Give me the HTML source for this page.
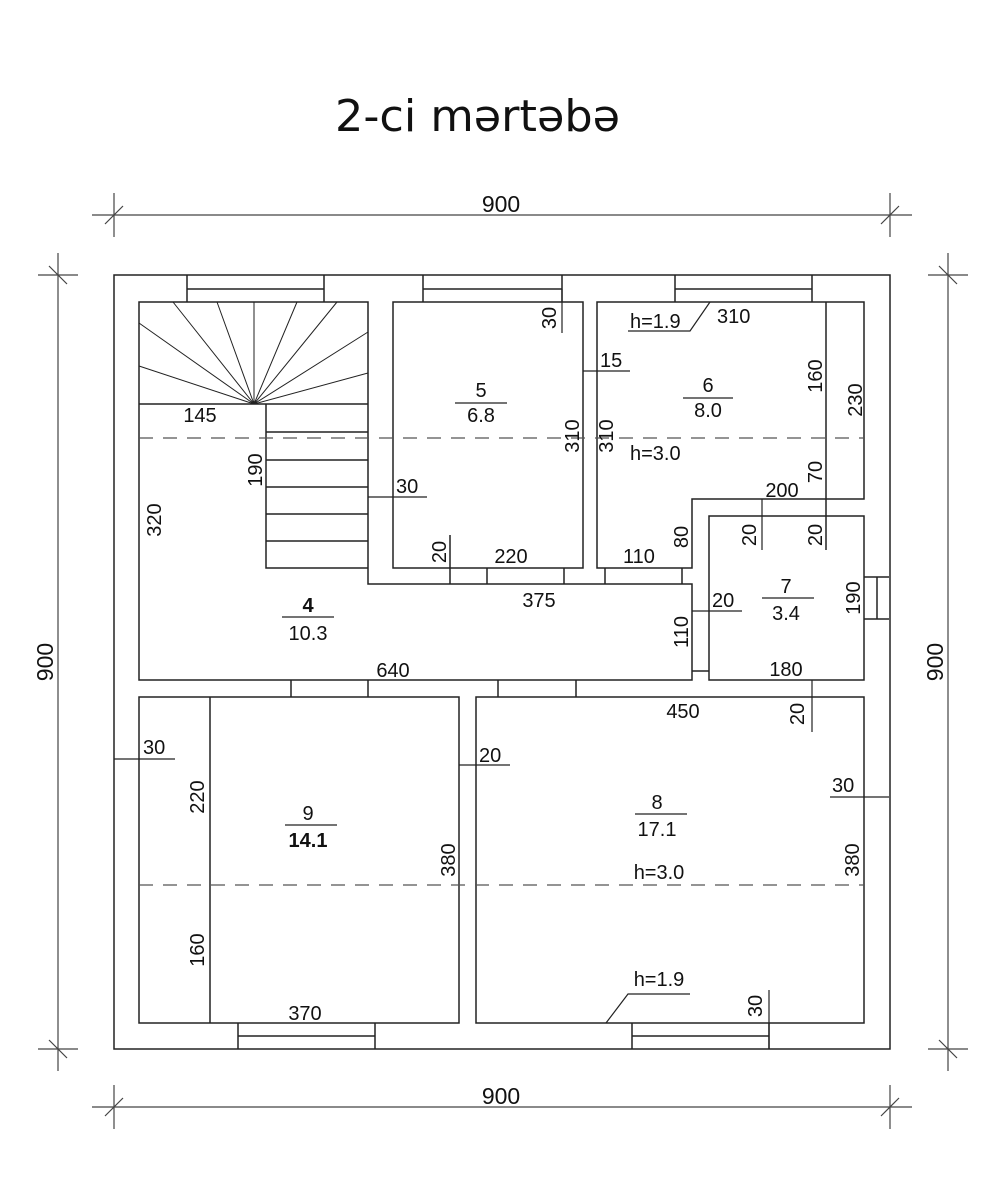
<!DOCTYPE html>
<html><head><meta charset="utf-8"><style>html,body{margin:0;padding:0;background:#fff}svg{display:block}</style></head>
<body>
<svg width="1000" height="1200" viewBox="0 0 1000 1200" xmlns="http://www.w3.org/2000/svg" font-family="Liberation Sans, Arial, sans-serif" fill="none" stroke="#222" stroke-width="1.5">
<text x="335" y="131" font-size="44" fill="#111" stroke="none" textLength="285" lengthAdjust="spacingAndGlyphs" font-family="DejaVu Sans, Liberation Sans, sans-serif">2-ci mərtəbə</text>

<g stroke="#444" stroke-width="1.2">
<line x1="92" y1="215" x2="912" y2="215"/><line x1="114" y1="193" x2="114" y2="237"/><line x1="890" y1="193" x2="890" y2="237"/>
<line x1="105" y1="224" x2="123" y2="206"/><line x1="881" y1="224" x2="899" y2="206"/>
<line x1="92" y1="1107" x2="912" y2="1107"/><line x1="114" y1="1085" x2="114" y2="1129"/><line x1="890" y1="1085" x2="890" y2="1129"/>
<line x1="105" y1="1116" x2="123" y2="1098"/><line x1="881" y1="1116" x2="899" y2="1098"/>
<line x1="58" y1="253" x2="58" y2="1071"/><line x1="38" y1="275" x2="78" y2="275"/><line x1="38" y1="1049" x2="78" y2="1049"/>
<line x1="49" y1="266" x2="67" y2="284"/><line x1="49" y1="1040" x2="67" y2="1058"/>
<line x1="948" y1="253" x2="948" y2="1071"/><line x1="928" y1="275" x2="968" y2="275"/><line x1="928" y1="1049" x2="968" y2="1049"/>
<line x1="939" y1="266" x2="957" y2="284"/><line x1="939" y1="1040" x2="957" y2="1058"/>
</g>
<g fill="#111" stroke="none" font-size="23">
<text x="501" y="212" text-anchor="middle">900</text>
<text x="501" y="1104" text-anchor="middle">900</text>
<text transform="translate(53,662) rotate(-90)" text-anchor="middle">900</text>
<text transform="translate(943,662) rotate(-90)" text-anchor="middle">900</text>
</g>

<rect x="114" y="275" width="776" height="774"/>
<path d="M187 275V302M324 275V302M187 289H324 M423 275V302M562 275V302M423 289H562 M675 275V302M812 275V302M675 289H812 M238 1023V1049M375 1023V1049M238 1036H375 M632 1023V1049M769 1023V1049M632 1036H769 M864 577H889M864 619H889M877 577V619"/>

<path d="M139 302H368V584H692V680H139Z"/>
<line x1="139" y1="404" x2="368" y2="404"/>
<path d="M266 404V568H368 M266 432H368M266 460H368M266 487H368M266 514H368M266 541H368"/>
<g stroke-width="1">
<path d="M254 404L173 302M254 404L217 302M254 404V302M254 404L297 302M254 404L337 302M254 404L139 323M254 404L139 366M254 404L368 332M254 404L368 373"/>
</g>
<rect x="393" y="302" width="190" height="266"/>
<path d="M597 302H864V499H692V568H597Z"/>
<line x1="826" y1="302" x2="826" y2="550"/>
<rect x="709" y="516" width="155" height="164"/>
<line x1="692" y1="671" x2="709" y2="671"/>
<path d="M450 535V584M487 568V584M564 568V584M605 568V584M682 568V584"/>
<rect x="139" y="697" width="320" height="326"/>
<line x1="210" y1="697" x2="210" y2="1023"/>
<rect x="476" y="697" width="388" height="326"/>
<path d="M291 680V697M368 680V697M498 680V697M576 680V697"/>

<g stroke="#555" stroke-width="1.2" stroke-dasharray="14 10">
<line x1="139" y1="438" x2="864" y2="438"/>
<line x1="139" y1="885" x2="864" y2="885"/>
</g>

<g stroke-width="1.2">
<path d="M562 289V333 M583 371H630 M368 497H427 M628 331H690L710 302 M762 499V550 M692 611H742 M812 680V732 M830 797H889 M690 994H628L606 1023 M769 990V1049 M114 759H175 M459 765H510"/>
<path d="M455 403H507M683 398H733M762 598H814M635 814H687M285 825H337M282 617H334"/>
</g>

<g fill="#111" stroke="none" font-size="20">
<text x="200" y="422" text-anchor="middle">145</text>
<text transform="translate(161,520) rotate(-90)" text-anchor="middle">320</text>
<text transform="translate(262,470) rotate(-90)" text-anchor="middle">190</text>
<text x="396" y="493">30</text>
<text x="481" y="397" text-anchor="middle">5</text>
<text x="481" y="422" text-anchor="middle">6.8</text>
<text transform="translate(579,436) rotate(-90)" text-anchor="middle">310</text>
<text transform="translate(613,436) rotate(-90)" text-anchor="middle">310</text>
<text transform="translate(556,318) rotate(-90)" text-anchor="middle">30</text>
<text x="600" y="367">15</text>
<text transform="translate(446,552) rotate(-90)" text-anchor="middle">20</text>
<text x="511" y="563" text-anchor="middle">220</text>
<text x="539" y="607" text-anchor="middle">375</text>
<text x="630" y="328">h=1.9</text>
<text x="717" y="323">310</text>
<text x="708" y="392" text-anchor="middle">6</text>
<text x="708" y="417" text-anchor="middle">8.0</text>
<text x="630" y="460">h=3.0</text>
<text transform="translate(822,376) rotate(-90)" text-anchor="middle">160</text>
<text transform="translate(862,400) rotate(-90)" text-anchor="middle">230</text>
<text transform="translate(822,472) rotate(-90)" text-anchor="middle">70</text>
<text x="782" y="497" text-anchor="middle">200</text>
<text transform="translate(756,535) rotate(-90)" text-anchor="middle">20</text>
<text transform="translate(822,535) rotate(-90)" text-anchor="middle">20</text>
<text transform="translate(688,537) rotate(-90)" text-anchor="middle">80</text>
<text x="639" y="563" text-anchor="middle">110</text>
<text x="712" y="607">20</text>
<text transform="translate(688,632) rotate(-90)" text-anchor="middle">110</text>
<text x="786" y="593" text-anchor="middle">7</text>
<text x="786" y="620" text-anchor="middle">3.4</text>
<text transform="translate(860,598) rotate(-90)" text-anchor="middle">190</text>
<text x="786" y="676" text-anchor="middle">180</text>
<text x="308" y="612" text-anchor="middle" font-weight="bold">4</text>
<text x="308" y="640" text-anchor="middle">10.3</text>
<text x="393" y="677" text-anchor="middle">640</text>
<text x="683" y="718" text-anchor="middle">450</text>
<text transform="translate(804,714) rotate(-90)" text-anchor="middle">20</text>
<text x="832" y="792">30</text>
<text x="657" y="809" text-anchor="middle">8</text>
<text x="657" y="836" text-anchor="middle">17.1</text>
<text x="659" y="879" text-anchor="middle">h=3.0</text>
<text transform="translate(859,860) rotate(-90)" text-anchor="middle">380</text>
<text x="659" y="986" text-anchor="middle">h=1.9</text>
<text transform="translate(762,1006) rotate(-90)" text-anchor="middle">30</text>
<text x="143" y="754">30</text>
<text transform="translate(204,797) rotate(-90)" text-anchor="middle">220</text>
<text transform="translate(204,950) rotate(-90)" text-anchor="middle">160</text>
<text x="308" y="820" text-anchor="middle">9</text>
<text x="308" y="847" text-anchor="middle" font-weight="bold">14.1</text>
<text transform="translate(455,860) rotate(-90)" text-anchor="middle">380</text>
<text x="305" y="1020" text-anchor="middle">370</text>
<text x="479" y="762">20</text>
</g>
</svg>
</body></html>
